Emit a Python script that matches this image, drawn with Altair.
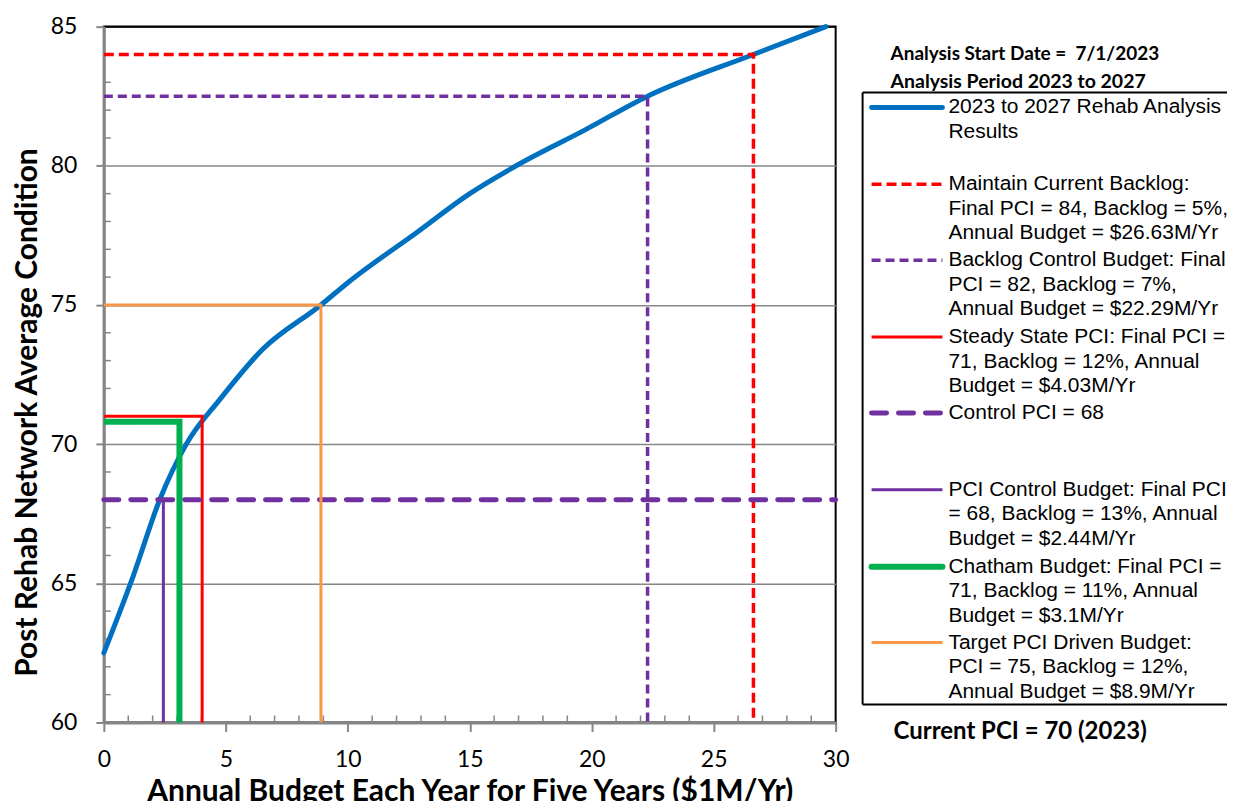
import altair as alt
import pandas as pd

# ---- data ----
budget_curve = [0.0, 1.2, 2.29, 3.38, 4.75, 6.5, 8.9, 10.0, 12.9, 15.0, 16.9, 19.75, 22.29, 26.63, 29.6]
pci_curve = [62.5, 65.25, 68.0, 70.0, 71.6, 73.4, 75.0, 75.8, 77.65, 79.0, 80.0, 81.3, 82.5, 84.0, 85.0]

scenario_names = ["Maintain Current Backlog", "Backlog Control Budget", "Steady State PCI",
                  "Control PCI", "PCI Control Budget", "Chatham Budget", "Target PCI Driven Budget"]
scenario_budget = [26.63, 22.29, 4.03, 30.0, 2.44, 3.1, 8.9]
scenario_pci = [84.0, 82.5, 71.0, 68.0, 68.0, 70.8, 75.0]
scenario_kind = ["elbow", "elbow", "elbow", "horizontal", "vertical", "elbow", "elbow"]

x_ticks = [0, 5, 10, 15, 20, 25, 30]
y_ticks = [60, 65, 70, 75, 80, 85]
x_minor = [v for v in range(0, 31) if v % 5 != 0]
y_minor = [v for v in range(60, 86) if v % 5 != 0]

legend_labels = [
    "2023 to 2027 Rehab Analysis\nResults",
    "Maintain Current Backlog:\nFinal PCI = 84, Backlog = 5%,\nAnnual Budget = $26.63M/Yr",
    "Backlog Control Budget: Final\nPCI = 82, Backlog = 7%,\nAnnual Budget = $22.29M/Yr",
    "Steady State PCI: Final PCI =\n71, Backlog = 12%, Annual\nBudget = $4.03M/Yr",
    "Control PCI = 68",
    "PCI Control Budget: Final PCI\n= 68, Backlog = 13%, Annual\nBudget = $2.44M/Yr",
    "Chatham Budget: Final PCI =\n71, Backlog = 11%, Annual\nBudget = $3.1M/Yr",
    "Target PCI Driven Budget:\nPCI = 75, Backlog = 12%,\nAnnual Budget = $8.9M/Yr",
]
header_1 = "Analysis Start Date =\u00a0 7/1/2023"
header_2 = "Analysis Period 2023 to 2027"
footer = "Current PCI = 70 (2023)"

# ---- styles (not data) ----
styles = [
    dict(color="#0070C0", width=5, dash=[1, 0], cap="round"),      # curve
    dict(color="#FF0000", width=3.5, dash=[10, 5], cap="butt"),
    dict(color="#7030A0", width=3.5, dash=[9, 5], cap="butt"),
    dict(color="#FF0000", width=3, dash=[1, 0], cap="butt"),
    dict(color="#7030A0", width=5, dash=[15, 12], cap="round"),
    dict(color="#7030A0", width=3, dash=[1, 0], cap="butt"),
    dict(color="#00B050", width=6, dash=[1, 0], cap="butt"),
    dict(color="#F79646", width=3, dash=[1, 0], cap="butt"),
]

W, H = 733, 697
XMIN, XMAX, YMIN, YMAX = 0, 30, 60, 85

xs = alt.Scale(domain=[XMIN, XMAX], nice=False, zero=False)
ys = alt.Scale(domain=[YMIN, YMAX], nice=False, zero=False)

x_axis = alt.Axis(values=x_ticks, grid=False, tickSize=9, labelPadding=17,
                  title="Annual Budget Each Year for Five Years ($1M/Yr)",
                  titleY=78, titleBaseline="alphabetic", labelFlush=False)
y_axis = alt.Axis(values=y_ticks, grid=True, tickSize=8, labelPadding=19,
                  title="Post Rehab Network Average Condition",
                  titleX=-67, titleY=386, titleBaseline="alphabetic", labelFlush=False,
                  gridColor={"condition": {"test": "datum.value === 85", "value": "black"},
                             "value": "#868686"})

layers = []

# minor ticks (inward)
layers.append(
    alt.Chart(pd.DataFrame({"x": x_minor})).mark_rule(color="#868686", strokeWidth=1.5)
    .encode(x=alt.X("x:Q", scale=xs, axis=x_axis), y=alt.value(H - 7), y2=alt.value(H))
)
layers.append(
    alt.Chart(pd.DataFrame({"y": y_minor})).mark_rule(color="#868686", strokeWidth=1.5)
    .encode(y=alt.Y("y:Q", scale=ys, axis=y_axis), x=alt.value(0), x2=alt.value(7))
)

# analysis curve
curve_df = pd.DataFrame({"x": budget_curve, "y": pci_curve})
s = styles[0]
layers.append(
    alt.Chart(curve_df).mark_line(color=s["color"], strokeWidth=s["width"], interpolate="monotone",
                                  strokeCap="round")
    .encode(x=alt.X("x:Q", scale=xs), y=alt.Y("y:Q", scale=ys))
)

# scenario lines
for i, (name, b, p, kind) in enumerate(zip(scenario_names, scenario_budget, scenario_pci, scenario_kind)):
    if kind == "elbow":
        pts = [(XMIN, p), (b, p), (b, YMIN)]
    elif kind == "horizontal":
        pts = [(XMIN, p), (b, p)]
    else:
        pts = [(b, p), (b, YMIN)]
    df = pd.DataFrame({"x": [q[0] for q in pts], "y": [q[1] for q in pts], "o": list(range(len(pts)))})
    s = styles[i + 1]
    layers.append(
        alt.Chart(df).mark_line(color=s["color"], strokeWidth=s["width"], strokeDash=s["dash"],
                                strokeCap=s["cap"], strokeJoin="miter")
        .encode(x=alt.X("x:Q", scale=xs), y=alt.Y("y:Q", scale=ys), order="o:Q")
    )

one = pd.DataFrame({"a": [0]})

# legend box (top, left, bottom edges)
BL, BT, BB, BR = 760, 66, 679, 1140
for (x1, x2, y1, y2) in [(BL, BR, BT, BT), (BL, BL, BT, BB), (BL, BR, BB, BB)]:
    layers.append(alt.Chart(one).mark_rule(color="black", strokeWidth=2)
                  .encode(x=alt.value(x1), x2=alt.value(x2), y=alt.value(y1), y2=alt.value(y2)))

sym_y = [81, 158, 234, 311, 387, 464, 541, 617]
for i, lab in enumerate(legend_labels):
    s = styles[i]
    layers.append(alt.Chart(one).mark_rule(color=s["color"], strokeWidth=s["width"], strokeDash=s["dash"],
                                           strokeCap="round" if i in (0, 4, 6) else "butt")
                  .encode(x=alt.value(769), x2=alt.value(840), y=alt.value(sym_y[i])))
    layers.append(alt.Chart(one).mark_text(align="left", baseline="middle", lineBreak="\n", lineHeight=24.5,
                                           font="Liberation Sans", fontSize=21, color="black")
                  .encode(x=alt.value(846), y=alt.value(sym_y[i]), text=alt.value(lab)))

layers.append(alt.Chart(one).mark_text(align="left", baseline="middle", font="Lato", fontWeight="bold",
                                       fontSize=19, color="black")
              .encode(x=alt.value(788), y=alt.value(27), text=alt.value(header_1)))
layers.append(alt.Chart(one).mark_text(align="left", baseline="middle", font="Lato", fontWeight="bold",
                                       fontSize=19.5, color="black")
              .encode(x=alt.value(788), y=alt.value(55), text=alt.value(header_2)))
layers.append(alt.Chart(one).mark_text(align="left", baseline="middle", font="Lato", fontWeight="bold",
                                       fontSize=24, color="black")
              .encode(x=alt.value(791), y=alt.value(707), text=alt.value(footer)))

chart = alt.layer(*layers).properties(
    width=W, height=H,
    autosize=alt.AutoSizeParams(type="none"),
    padding={"left": 96, "top": 18, "right": 392, "bottom": 78},
).configure_view(stroke="black", strokeWidth=2).configure_axis(
    domainColor="#868686", domainWidth=3, tickColor="#868686", tickWidth=2,
    labelFont="Lato", labelFontSize=23, labelColor="black",
    titleFont="Lato", titleFontSize=30, titleFontWeight="bold", titleColor="black",
    gridWidth=1.5,
)

chart.save("out.html", embed_options={"renderer": "svg", "actions": False})
